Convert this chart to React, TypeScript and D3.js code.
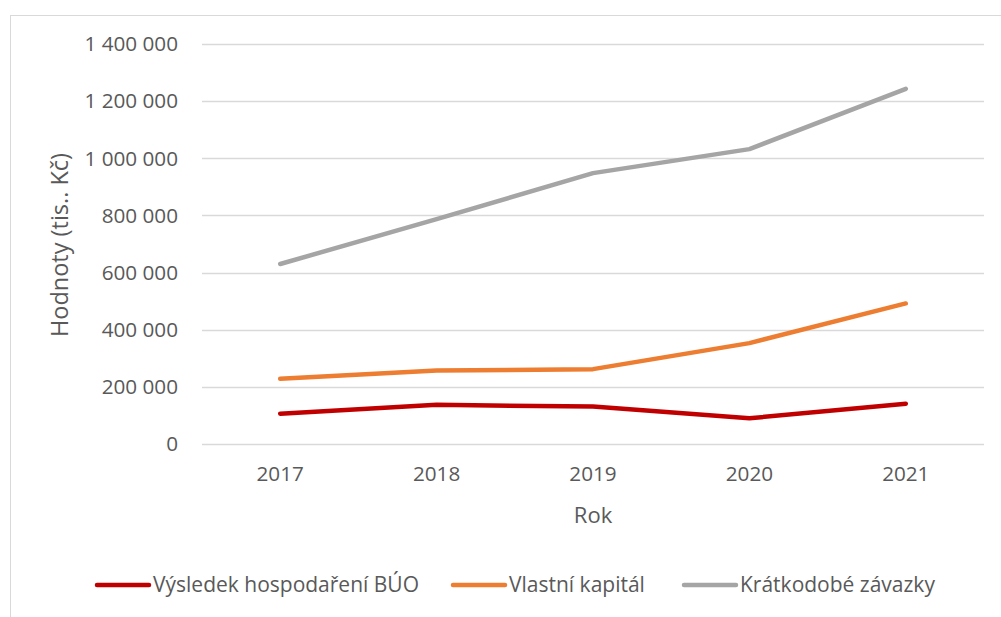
import React from "react";
import * as d3 from "d3";

const years = ["2017", "2018", "2019", "2020", "2021"];
const vysledek = [106000, 137000, 131000, 90000, 141000];
const vlastni = [228000, 257000, 262000, 353000, 492000];
const kratkodobe = [630000, 787000, 948000, 1032000, 1243000];
const yTicks = [0, 200000, 400000, 600000, 800000, 1000000, 1200000, 1400000];
const seriesNames = ["Výsledek hospodaření BÚO", "Vlastní kapitál", "Krátkodobé závazky"];
const seriesColors = ["#C00000", "#ED7D31", "#A5A5A5"];

const W = 1001, H = 617;
const FONT = "'Open Sans', sans-serif";

export default function App() {
  const x = d3.scaleBand<string>().domain(years).range([202, 984]);
  const y = d3.scaleLinear().domain([0, 1400000]).range([444, 44]);
  const line = d3
    .line<number>()
    .x((_, i) => (x(years[i]) as number) + x.bandwidth() / 2)
    .y((d) => y(d));
  const fmt = (v: number) => d3.format(",")(v).replace(/,/g, " ");
  const data = [vysledek, vlastni, kratkodobe];
  const legendX = [97, 453, 684];

  return (
    <svg width={W} height={H} style={{ position: "absolute", left: 0, top: 0, background: "#fff" }} fontFamily={FONT}>
      <rect x={10.5} y={15.5} width={1100} height={700} fill="#fff" stroke="#D9D9D9" strokeWidth={1} />
      {yTicks.map((t) => (
        <g key={t}>
          <line x1={202} x2={984} y1={Math.round(y(t)) + 0.5} y2={Math.round(y(t)) + 0.5} stroke="#D9D9D9" strokeWidth={1.3} />
          <text x={178} y={y(t)} dy="0.35em" textAnchor="end" fontSize={20.7} fill="#595959">
            {fmt(t)}
          </text>
        </g>
      ))}
      {years.map((yr) => (
        <text key={yr} x={(x(yr) as number) + x.bandwidth() / 2} y={481} textAnchor="middle" fontSize={20.7} fill="#595959">
          {yr}
        </text>
      ))}
      <text x={593} y={523} textAnchor="middle" fontSize={22} fill="#595959">Rok</text>
      <text transform="translate(68,245) rotate(-90)" textAnchor="middle" fontSize={23.5} fill="#595959">
        Hodnoty (tis.. Kč)
      </text>
      {data.map((d, i) => (
        <path key={i} d={line(d) as string} fill="none" stroke={seriesColors[i]} strokeWidth={4.5} strokeLinecap="round" strokeLinejoin="round" />
      ))}
      {seriesNames.map((n, i) => (
        <g key={n}>
          <line x1={legendX[i]} x2={legendX[i] + 52} y1={585} y2={585} stroke={seriesColors[i]} strokeWidth={4.5} strokeLinecap="round" />
          <text x={legendX[i] + 56} y={585} dy="0.35em" fontSize={21} fill="#595959">{n}</text>
        </g>
      ))}
    </svg>
  );
}
